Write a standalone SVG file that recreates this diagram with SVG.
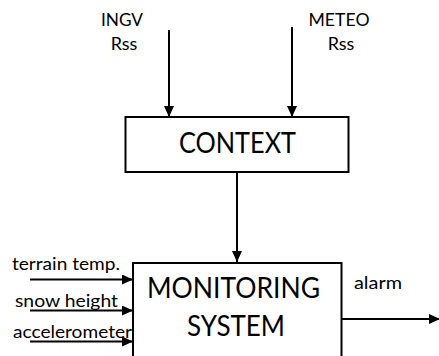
<svg xmlns="http://www.w3.org/2000/svg" width="439" height="356" viewBox="0 0 439 356">
<defs>
<style>
.box{fill:#fff;stroke:#000;stroke-width:2}
.ln{stroke:#000;stroke-width:2;fill:none;marker-end:url(#ah)}
text{font-family:Lato,"Open Sans","Liberation Sans",sans-serif;fill:#000}
.big{font-size:28px;text-anchor:middle}
.lbl{font-size:18px;text-anchor:middle}
.in{font-size:18px}
</style>
<marker id="ah" markerUnits="userSpaceOnUse" markerWidth="11" markerHeight="10" refX="11" refY="5" orient="auto">
<path d="M0,0 L11,5 L0,10 z" fill="#000"/>
</marker>
</defs>
<rect width="439" height="356" fill="#fff"/>
<g id="connectors">
<line class="ln" x1="169" y1="30" x2="169" y2="117"/>
<line class="ln" x1="292" y1="27" x2="292" y2="117"/>
<line class="ln" x1="237" y1="172" x2="237" y2="262"/>
<line class="ln" x1="30" y1="279.5" x2="133" y2="279.5"/>
<line class="ln" x1="30" y1="310.5" x2="133" y2="310.5"/>
<line class="ln" x1="30" y1="341.5" x2="133" y2="341.5"/>
<line class="ln" x1="342" y1="319" x2="440" y2="319"/>
</g>
<g id="ingv">
<text class="lbl" x="122" y="26" textLength="42" lengthAdjust="spacingAndGlyphs">INGV</text>
<text class="lbl" x="124" y="50">Rss</text>
</g>
<g id="meteo">
<text class="lbl" x="339" y="26" textLength="61" lengthAdjust="spacingAndGlyphs">METEO</text>
<text class="lbl" x="341" y="50">Rss</text>
</g>
<g id="context">
<rect class="box" x="125.5" y="117" width="223" height="55"/>
<text class="big" x="237.5" y="153" textLength="117" lengthAdjust="spacingAndGlyphs">CONTEXT</text>
</g>
<g id="monitoring">
<rect class="box" x="133" y="263" width="208.5" height="100"/>
<text class="big" x="233.5" y="298" textLength="173" lengthAdjust="spacingAndGlyphs">MONITORING</text>
<text class="big" x="236" y="336" textLength="98" lengthAdjust="spacingAndGlyphs">SYSTEM</text>
</g>
<g id="inputs">
<text class="in" x="12" y="270" textLength="108" lengthAdjust="spacingAndGlyphs">terrain temp.</text>
<text class="in" x="15" y="306.5" textLength="103" lengthAdjust="spacingAndGlyphs">snow height</text>
<text class="in" x="13" y="338" textLength="119" lengthAdjust="spacingAndGlyphs">accelerometer</text>
</g>
<g id="output">
<text class="in" x="354" y="288.5" textLength="48" lengthAdjust="spacingAndGlyphs">alarm</text>
</g>
</svg>
